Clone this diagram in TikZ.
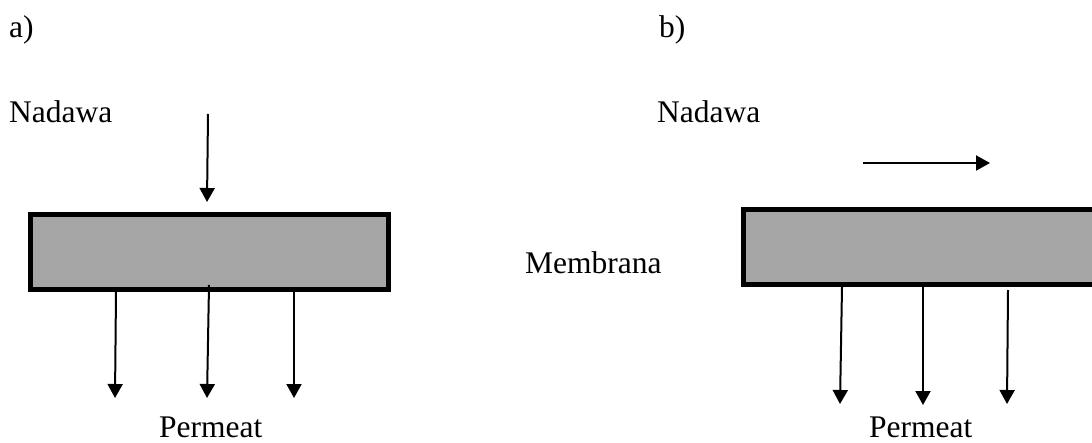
\documentclass[tikz,border=0pt]{standalone}
\usepackage{fontspec}
\setmainfont{Liberation Serif}
\usetikzlibrary{arrows.meta}
\definecolor{memgray}{HTML}{A6A6A6}
\begin{document}
\begin{tikzpicture}[x=1pt,y=-1pt,
  lbl/.style={anchor=base west, inner sep=0pt, font=\fontsize{31.5}{36}\selectfont},
  membrane/.style={draw=black, line width=5pt, fill=memgray, inner sep=0pt,
                   minimum height=75pt},
  flow/.style={line width=2pt, -{Triangle[length=14pt,width=15pt]}}]
\useasboundingbox (0,0) rectangle (1092,443);
\clip (0,0) rectangle (1092,443);

% ---------- a) dead-end filtration ----------
\node[lbl] (tagA)  at (9,38)   {a)};
\node[lbl] (feedA) at (9,123)  {Nadawa};
\node[lbl] (permA) at (159,437) {Permeat};
\node[membrane, minimum width=358pt] (memA) at (209.5,252) {};

\coordinate (fa0) at (208,114);
\coordinate (fa1) at (207,202);
\draw[flow] (fa0) -- (fa1);

\coordinate (pa1s) at (116,292); \coordinate (pa1e) at (115,398);
\coordinate (pa2s) at (209,285); \coordinate (pa2e) at (207,398);
\coordinate (pa3s) at (294,292); \coordinate (pa3e) at (294,398);
\draw[flow] (pa1s) -- (pa1e);
\draw[flow] (pa2s) -- (pa2e);
\draw[flow] (pa3s) -- (pa3e);

% ---------- b) cross-flow filtration ----------
\node[lbl] (tagB)  at (659,38)  {b)};
\node[lbl] (feedB) at (657,123) {Nadawa};
\node[lbl] (memLb) at (525,274) {Membrana};
\node[lbl] (permB) at (869,437.5) {Permeat};
\node[membrane, minimum width=366.5pt] (memB) at (926.75,247) {};

\coordinate (fb0) at (863,163);
\coordinate (fb1) at (990,163);
\draw[flow] (fb0) -- (fb1);

\coordinate (pb1s) at (842,287);  \coordinate (pb1e) at (840,404);
\coordinate (pb2s) at (923,287);  \coordinate (pb2e) at (923,405);
\coordinate (pb3s) at (1008,290); \coordinate (pb3e) at (1007,404);
\draw[flow] (pb1s) -- (pb1e);
\draw[flow] (pb2s) -- (pb2e);
\draw[flow] (pb3s) -- (pb3e);
\end{tikzpicture}
\end{document}
